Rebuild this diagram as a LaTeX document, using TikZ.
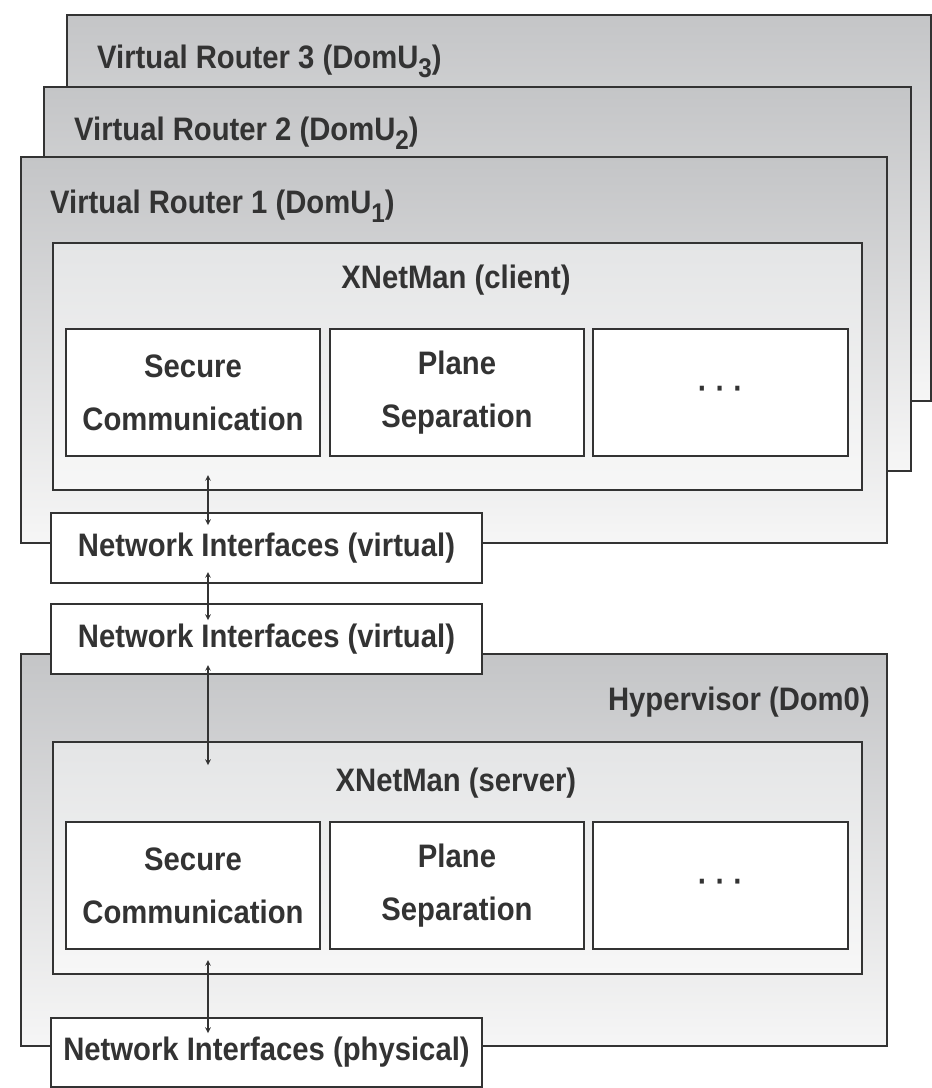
\documentclass[tikz,border=0pt]{standalone}
\usepackage{fontspec}
\setmainfont{Liberation Sans}[FakeStretch=0.9]
\usetikzlibrary{arrows}
\definecolor{edge}{HTML}{333333}
\definecolor{boxtop}{HTML}{C4C5C7}
\definecolor{boxbottom}{HTML}{F6F6F6}
\definecolor{innertop}{HTML}{E4E5E6}
\definecolor{innerbottom}{HTML}{F7F7F7}
\newcommand{\domidx}[1]{\raisebox{-9pt}{\fontsize{27}{27}\selectfont #1}}
\tikzstyle{arrow} = [line width=1.5pt,<->,>=stealth,draw=edge]
\tikzstyle{vmbox} = [rectangle, anchor=north west, inner sep=0pt, draw=edge, line width=2pt, top color=boxtop, bottom color=boxbottom]
\tikzstyle{mgrbox} = [rectangle, anchor=north west, inner sep=0pt, draw=edge, line width=2pt, top color=innertop, bottom color=innerbottom, minimum width=809pt]
\tikzstyle{module} = [rectangle, anchor=north west, inner sep=0pt, draw=edge, line width=2pt, fill=white, minimum width=254pt, minimum height=127pt, align=center, text=edge, font=\bfseries\fontsize{32.5}{53}\selectfont]
\tikzstyle{netif} = [rectangle, anchor=north west, inner sep=0pt, draw=edge, line width=2pt, fill=white, minimum width=431pt, minimum height=70pt, text=edge, font=\bfseries\fontsize{32.5}{40}\selectfont]
\tikzstyle{boxlabel} = [inner sep=0pt, anchor=base west, text=edge, font=\bfseries\fontsize{32.5}{40}\selectfont]
\begin{document}
\begin{tikzpicture}[x=1pt,y=-1pt]
\useasboundingbox (0,0) rectangle (932,1088);
% virtual routers, back to front
\node (vr3) [vmbox, minimum width=864pt, minimum height=386pt] at (66,14) {};
\node (vr3lbl) [boxlabel] at (97,68) {Virtual Router 3 (DomU\domidx{3})};
\node (vr2) [vmbox, minimum width=867pt, minimum height=384pt] at (43,86) {};
\node (vr2lbl) [boxlabel] at (74,140) {Virtual Router 2 (DomU\domidx{2})};
\node (vr1) [vmbox, minimum width=866pt, minimum height=386pt] at (20,156) {};
\node (vr1lbl) [boxlabel] at (50,213) {Virtual Router 1 (DomU\domidx{1})};
% client side
\node (client) [mgrbox, minimum height=247pt] at (52,242) {};
\node (clientlbl) [boxlabel, anchor=base] at (456,288) {XNetMan (client)};
\node (csec) [module] at (65,328) {Secure\\Communication};
\node (cplane) [module] at (329,328) {Plane\\Separation};
\node (cmore) [module, minimum width=255pt] at (592,328) {· · ·};
\node (nif1) [netif] at (50,512) {Network Interfaces (virtual)};
% hypervisor
\node (hyper) [vmbox, minimum width=866pt, minimum height=392pt] at (20,653) {};
\node (nif2) [netif] at (50,603) {Network Interfaces (virtual)};
\node (hyperlbl) [boxlabel, anchor=base east] at (870,710) {Hypervisor (Dom0)};
\node (server) [mgrbox, minimum height=232pt] at (52,741) {};
\node (serverlbl) [boxlabel, anchor=base] at (456,791) {XNetMan (server)};
\node (ssec) [module] at (65,821) {Secure\\Communication};
\node (splane) [module] at (329,821) {Plane\\Separation};
\node (smore) [module, minimum width=255pt] at (592,821) {· · ·};
\node (nifp) [netif, minimum height=69pt] at (50,1017) {Network Interfaces (physical)};
% links
\draw [arrow] ([xshift=156pt,yshift=16pt]client.south west) -- ([xshift=158pt,yshift=-13pt]nif1.north west);
\draw [arrow] ([xshift=158pt,yshift=12pt]nif1.south west) -- ([xshift=158pt,yshift=-17pt]nif2.north west);
\draw [arrow] ([xshift=158pt,yshift=10pt]nif2.south west) -- ([xshift=156pt,yshift=-24pt]server.north west);
\draw [arrow] ([xshift=156pt,yshift=15pt]server.south west) -- ([xshift=158pt,yshift=-16pt]nifp.north west);
\end{tikzpicture}
\end{document}
